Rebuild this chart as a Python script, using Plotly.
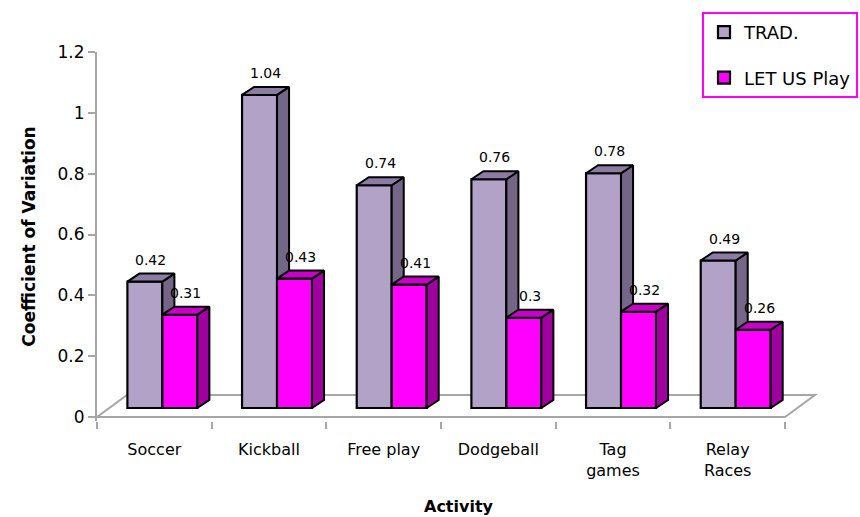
import plotly.graph_objects as go

# ---------------- data ----------------
categories = ["Soccer", "Kickball", "Free play", "Dodgeball", "Tag<br>games", "Relay<br>Races"]
trad = [0.42, 1.04, 0.74, 0.76, 0.78, 0.49]
letus = [0.31, 0.43, 0.41, 0.30, 0.32, 0.26]
series_names = ["TRAD.", "LET US Play"]
y_ticks = [0, 0.2, 0.4, 0.6, 0.8, 1, 1.2]
y_tick_text = ["0", "0.2", "0.4", "0.6", "0.8", "1", "1.2"]

# ---------------- style ----------------
FONT = "DejaVu Sans"
FRONT = ["#B3A2C7", "#FF00FF"]
SIDE = ["#736687", "#A000A0"]
TOP = ["#8C7CA3", "#C800C8"]
GREY = "#A6A6A6"
BAR_W = 0.305      # bar width (category units)
OFF = [-0.235, 0.07]  # bar left-edge offsets
DX = 0.105         # 3D depth, x (category units)
DY = 0.0266        # 3D depth, y (value units)
FLOOR_DX = 0.2616
FLOOR_DY = 0.0723

xs = list(range(len(categories)))
n = len(xs)

fig = go.Figure()

def poly(pts_list):
    xx, yy = [], []
    for pts in pts_list:
        for (a, b) in pts:
            xx.append(a)
            yy.append(b)
        xx.append(pts[0][0]); yy.append(pts[0][1])
        xx.append(None); yy.append(None)
    return xx, yy

series = [trad, letus]
for s in range(2):
    vals = series[s]
    fig.add_trace(go.Bar(
        x=xs, y=vals, width=BAR_W, offset=OFF[s], base=0,
        xaxis="x", yaxis="y2", name=series_names[s], legendgroup=series_names[s],
        marker=dict(color=FRONT[s], line=dict(color="black", width=2.2)),
        hoverinfo="skip",
    ))

for s in range(2):
    vals = series[s]
    sides, tops = [], []
    for i in xs:
        l = i + OFF[s]
        r = l + BAR_W
        v = vals[i]
        if s == 0:
            cut = letus[i]  # lower part hidden behind the neighbouring bar
            sides.append([(r, cut), (r, v), (r + DX, v + DY), (r + DX, cut)])
        else:
            sides.append([(r, 0), (r, v), (r + DX, v + DY), (r + DX, DY)])
        tops.append([(l, v), (l + DX, v + DY), (r + DX, v + DY), (r, v)])
    for pts, col in ((sides, SIDE[s]), (tops, TOP[s])):
        px, py = poly(pts)
        fig.add_trace(go.Scatter(
            x=px, y=py, xaxis="x", yaxis="y2", mode="lines", fill="toself",
            fillcolor=col, line=dict(color="black", width=2),
            showlegend=False, hoverinfo="skip",
        ))

for s in range(2):
    vals = series[s]
    for i in xs:
        l = i + OFF[s]
        fig.add_annotation(
            x=l + (BAR_W + DX) / 2, y=vals[i] + DY, xref="x", yref="y2",
            text=f"{vals[i]:g}", showarrow=False, yanchor="middle", yshift=14,
            font=dict(family=FONT, size=14, color="black"),
        )

x0, x1 = -0.5, n - 0.5
floor_path = (f"M {x0},0 L {x1},0 L {x1 + FLOOR_DX},{FLOOR_DY} "
              f"L {x0 + FLOOR_DX},{FLOOR_DY} Z")
fig.add_shape(type="path", path=floor_path, xref="x", yref="y",
              line=dict(color=GREY, width=2), layer="below")

fig.update_layout(
    width=860, height=517,
    margin=dict(l=97, r=40, t=52, b=96, autoexpand=False),
    plot_bgcolor="white", paper_bgcolor="white",
    barmode="overlay",
    font=dict(family=FONT, size=15, color="black"),
    showlegend=True,
    legend=dict(
        x=(702 - 97) / 723, y=(421 - 12) / 369, xanchor="left", yanchor="top",
        bgcolor="white", bordercolor="#FF00FF", borderwidth=2,
        font=dict(family=FONT, size=18, color="black"),
        tracegroupgap=19, itemwidth=30,
    ),
    xaxis=dict(
        range=[-0.5, n - 0.5 + 35 / 114.67],
        tickmode="array", tickvals=xs, ticktext=categories,
        ticks="outside", ticklen=14, tickcolor="rgba(0,0,0,0)",
        showline=False, showgrid=False, zeroline=False, automargin=False,
        tickfont=dict(family=FONT, size=16),
        minor=dict(tickmode="array", tickvals=[x0 + k for k in range(n + 1)],
                   ticks="outside", ticklen=7, tickcolor=GREY, tickwidth=1.5),
        title=dict(text="<b>Activity</b>", font=dict(family=FONT, size=16), standoff=21),
        fixedrange=True,
    ),
    yaxis=dict(
        range=[-0.013, 1.2],
        tickmode="array", tickvals=y_ticks, ticktext=y_tick_text,
        ticks="outside", ticklen=7, tickcolor=GREY, tickwidth=1.5,
        showline=True, linecolor=GREY, linewidth=2,
        showgrid=False, zeroline=False, automargin=False,
        tickfont=dict(family=FONT, size=17),
        title=dict(text="<b>Coefficient of Variation</b>", font=dict(family=FONT, size=17), standoff=18),
        fixedrange=True,
    ),
    yaxis2=dict(
        range=[-0.0432, 1.1827], overlaying="y", anchor="x",
        visible=False, showgrid=False, zeroline=False, fixedrange=True,
    ),
)

fig.write_html("out.html")
